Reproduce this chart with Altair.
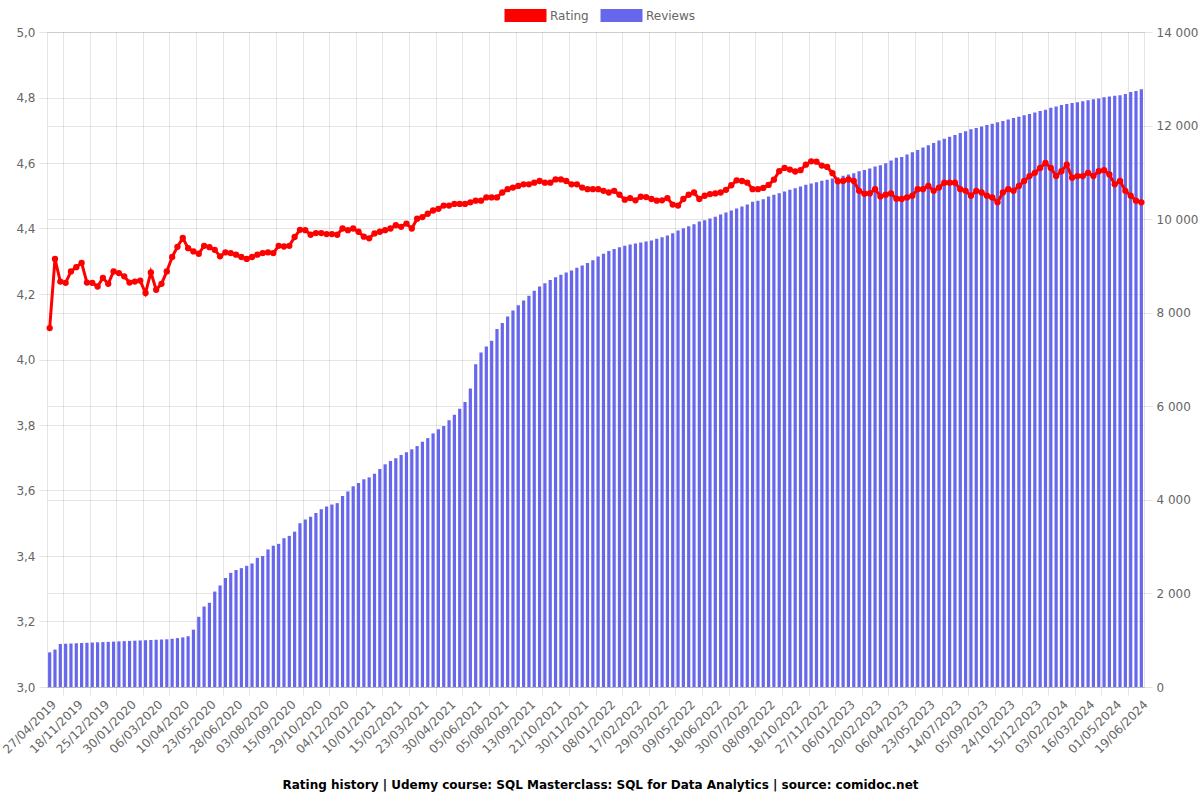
import altair as alt
import pandas as pd

FONT = "DejaVu Sans"
RED = "#ff0000"
BLUE = "#6767ec"

tick_labels = [
    "27/04/2019", "18/11/2019", "25/12/2019", "30/01/2020", "06/03/2020", "10/04/2020",
    "23/05/2020", "28/06/2020", "03/08/2020", "15/09/2020", "29/10/2020", "04/12/2020",
    "10/01/2021", "15/02/2021", "23/03/2021", "30/04/2021", "05/06/2021", "05/08/2021",
    "13/09/2021", "21/10/2021", "30/11/2021", "08/01/2022", "17/02/2022", "29/03/2022",
    "09/05/2022", "18/06/2022", "30/07/2022", "08/09/2022", "18/10/2022", "27/11/2022",
    "06/01/2023", "20/02/2023", "06/04/2023", "23/05/2023", "14/07/2023", "05/09/2023",
    "24/10/2023", "15/12/2023", "03/02/2024", "16/03/2024", "01/05/2024", "19/06/2024",
]

rating = [
    4.096, 4.307, 4.238, 4.234, 4.269, 4.282, 4.295, 4.235, 4.234, 4.223,
    4.249, 4.231, 4.269, 4.264, 4.254, 4.235, 4.238, 4.241, 4.203, 4.266,
    4.213, 4.231, 4.269, 4.313, 4.344, 4.371, 4.340, 4.330, 4.323, 4.347,
    4.343, 4.335, 4.315, 4.327, 4.325, 4.320, 4.313, 4.307, 4.313, 4.320,
    4.325, 4.327, 4.325, 4.347, 4.345, 4.347, 4.374, 4.396, 4.395, 4.381,
    4.386, 4.386, 4.383, 4.383, 4.381, 4.400, 4.395, 4.400, 4.390, 4.375,
    4.370, 4.385, 4.390, 4.395, 4.400, 4.410, 4.405, 4.415, 4.400, 4.430,
    4.435, 4.445, 4.455, 4.460, 4.470, 4.470, 4.475, 4.475, 4.475, 4.480,
    4.485, 4.485, 4.495, 4.495, 4.495, 4.510, 4.520, 4.525, 4.530, 4.535,
    4.535, 4.540, 4.545, 4.540, 4.540, 4.550, 4.550, 4.545, 4.535, 4.535,
    4.525, 4.520, 4.520, 4.520, 4.515, 4.510, 4.515, 4.503, 4.488, 4.493,
    4.486, 4.497, 4.496, 4.490, 4.485, 4.486, 4.493, 4.473, 4.470, 4.490,
    4.503, 4.510, 4.490, 4.500, 4.505, 4.507, 4.510, 4.518, 4.532, 4.547,
    4.545, 4.540, 4.520, 4.520, 4.524, 4.533, 4.549, 4.575, 4.585, 4.580,
    4.574, 4.578, 4.595, 4.605, 4.604, 4.592, 4.588, 4.569, 4.544, 4.545,
    4.550, 4.545, 4.515, 4.506, 4.507, 4.520, 4.498, 4.503, 4.507, 4.491,
    4.490, 4.495, 4.500, 4.520, 4.520, 4.530, 4.515, 4.525, 4.540, 4.540,
    4.540, 4.520, 4.515, 4.500, 4.515, 4.510, 4.500, 4.495, 4.480, 4.510,
    4.520, 4.515, 4.530, 4.545, 4.560, 4.570, 4.585, 4.600, 4.585, 4.560,
    4.575, 4.595, 4.555, 4.560, 4.560, 4.570, 4.560, 4.575, 4.578, 4.565,
    4.535, 4.545, 4.515, 4.500, 4.485, 4.480,
]

reviews = [
    740, 800, 920, 925, 930, 935, 940, 945, 950, 955,
    960, 965, 970, 975, 980, 985, 990, 995, 1000, 1005,
    1010, 1015, 1020, 1030, 1045, 1060, 1085, 1225, 1500, 1720,
    1800, 2040, 2170, 2330, 2440, 2500, 2540, 2590, 2640, 2760,
    2800, 2940, 3020, 3060, 3180, 3230, 3320, 3500, 3580, 3640,
    3720, 3800, 3860, 3900, 3930, 4080, 4180, 4290, 4360, 4440,
    4480, 4560, 4660, 4760, 4830, 4890, 4960, 5020, 5080, 5150,
    5240, 5320, 5420, 5510, 5580, 5700, 5820, 5950, 6090, 6380,
    6900, 7150, 7280, 7400, 7650, 7780, 7920, 8050, 8160, 8260,
    8360, 8470, 8560, 8630, 8700, 8760, 8810, 8860, 8900, 8960,
    9010, 9060, 9120, 9200, 9260, 9320, 9360, 9400, 9430, 9460,
    9480, 9500, 9520, 9545, 9579, 9615, 9649, 9700, 9756, 9808,
    9850, 9893, 9949, 9979, 10013, 10049, 10098, 10141, 10184, 10226,
    10269, 10312, 10370, 10391, 10427, 10483, 10519, 10555, 10590, 10626,
    10662, 10697, 10733, 10761, 10791, 10818, 10840, 10867, 10897, 10925,
    10953, 10983, 11025, 11053, 11081, 11124, 11154, 11196, 11252, 11310,
    11330, 11380, 11430, 11480, 11530, 11580, 11630, 11680, 11720, 11760,
    11800, 11840, 11880, 11920, 11950, 11980, 12010, 12040, 12070, 12100,
    12130, 12160, 12190, 12220, 12250, 12280, 12310, 12340, 12380, 12410,
    12440, 12460, 12480, 12500, 12520, 12540, 12560, 12580, 12607, 12620,
    12635, 12650, 12677, 12720, 12741, 12778,
]

series_names = ["Rating", "Reviews"]
title_text = "Rating history | Udemy course: SQL Masterclass: SQL for Data Analytics | source: comidoc.net"

n = len(rating)
df = pd.DataFrame({"idx": list(range(n)), "rating": rating, "reviews": reviews})

step = 5
grid_values = [step * k + step / 2 for k in range(len(tick_labels) - 1)]
label_values = [step * k for k in range(len(tick_labels))]
label_expr = "[" + ",".join("'%s'" % t for t in tick_labels) + "][round(datum.value / 5)]"

rating_ticks = [round(3.0 + 0.2 * k, 1) for k in range(11)]
review_ticks = list(range(0, 14001, 2000))

xscale = alt.Scale(domain=[-0.5, n - 0.5], nice=False, zero=False, padding=0)

axis_common = dict(
    labelFont=FONT, labelFontSize=12, labelColor="#666666",
    tickColor="#000000", tickOpacity=0.1, tickSize=8,
    gridColor="#000000", gridOpacity=0.1,
    domainColor="#000000", domainOpacity=0.1,
    title=None,
)

bars = alt.Chart(df).transform_calculate(series="'Reviews'").mark_bar(
    size=3.2, orient="vertical", color=BLUE
).encode(
    x=alt.X("idx:Q", scale=xscale, axis=alt.Axis(
        orient="bottom", values=grid_values, labels=False, ticks=True, grid=True,
        domain=True, **axis_common)),
    y=alt.Y("reviews:Q", stack=False,
            scale=alt.Scale(domain=[0, 14000], nice=False, zero=True, padding=0),
            axis=alt.Axis(orient="right", values=review_ticks, grid=True, domain=True,
                          labelPadding=4,
                          labelExpr="replace(format(datum.value, ','), ',', ' ')",
                          **axis_common)),
    color=alt.Color("series:N",
                    scale=alt.Scale(domain=series_names, range=[RED, BLUE]),
                    legend=alt.Legend(
                        title=None, orient="none", legendX=472, legendY=-23,
                        direction="horizontal",
                        symbolType="M-3.23,-1H3.23V1H-3.23Z", symbolSize=169,
                        symbolStrokeWidth=0, symbolOpacity=1,
                        labelOffset=18, columnPadding=11, padding=0,
                        labelFont=FONT, labelFontSize=12, labelColor="#666666",
                    )),
)

line = alt.Chart(df).mark_line(
    color=RED, strokeWidth=3,
    point=alt.OverlayMarkDef(filled=True, color=RED, size=40, opacity=1),
).encode(
    x=alt.X("idx:Q", scale=xscale, axis=alt.Axis(
        orient="bottom", values=label_values, labelExpr=label_expr,
        labelAngle=-45, labelAlign="right", labelBaseline="middle",
        labelPadding=15, labelOffset=4, ticks=False, grid=False, domain=False,
        labelOverlap=False, labelBound=False, labelFlush=False,
        **axis_common)),
    y=alt.Y("rating:Q", scale=alt.Scale(domain=[3, 5], nice=False, zero=False),
            axis=alt.Axis(orient="left", values=rating_ticks, grid=True, domain=True,
                          labelPadding=4,
                          labelExpr="replace(format(datum.value, '.1f'), '.', ',')",
                          **axis_common)),
)

chart = alt.layer(bars, line).resolve_scale(
    x="independent", y="independent"
).resolve_axis(
    x="independent", y="independent"
).properties(
    width=1097, height=655,
    autosize=alt.AutoSizeParams(type="none"),
    padding={"left": 47, "top": 32, "right": 56, "bottom": 113},
    title=alt.TitleParams(
        text=title_text, orient="bottom", anchor="middle", frame="group",
        font=FONT, fontSize=12, fontWeight="bold", color="#000000",
        offset=25, dx=5,
    ),
).configure_view(strokeWidth=0)

chart.save("out.html", embed_options={"renderer": "svg", "actions": False})
